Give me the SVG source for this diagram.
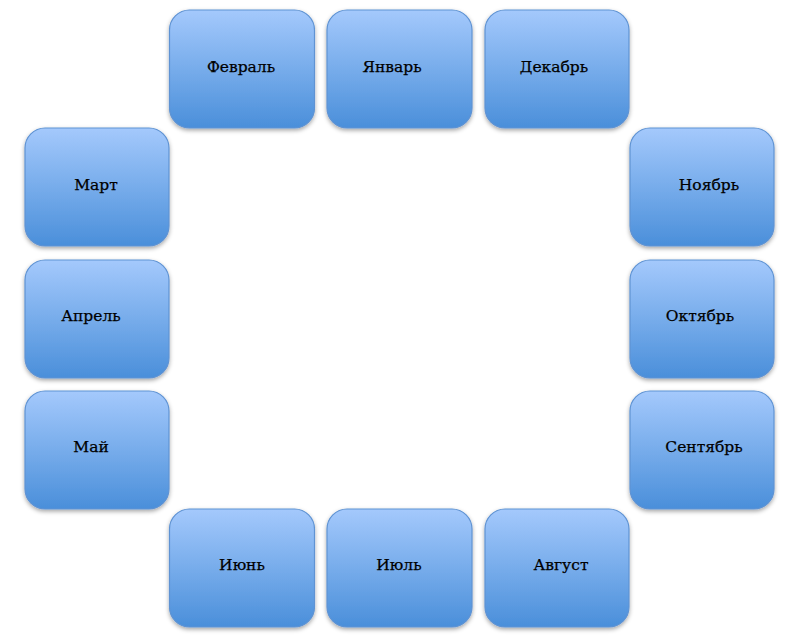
<svg xmlns="http://www.w3.org/2000/svg" width="800" height="637" viewBox="0 0 800 637">
<defs>
<linearGradient id="g" x1="0" y1="0" x2="0" y2="1">
<stop offset="0" stop-color="#a4c9fc"/>
<stop offset="1" stop-color="#4a8fda"/>
</linearGradient>
<filter id="sh" x="-10%" y="-10%" width="120%" height="125%">
<feDropShadow dx="0" dy="2" stdDeviation="2" flood-color="#000" flood-opacity="0.35"/>
</filter>
</defs>
<style>
.b{fill:url(#g);stroke:#5f93d3;stroke-width:1.2;filter:url(#sh)}
.t{font-family:"DejaVu Serif","Liberation Serif",serif;font-size:15.5px;fill:#000;stroke:#000;stroke-width:0.25;text-anchor:middle}
</style>
<rect width="800" height="637" fill="#fff"/>
<g id="connectors"/>
<g id="feb"><rect class="b" x="169.5" y="10" width="145" height="118" rx="20"/><text class="t" x="241" y="72">Февраль</text></g>
<g id="jan"><rect class="b" x="327" y="10" width="145" height="118" rx="20"/><text class="t" x="392" y="72">Январь</text></g>
<g id="dec"><rect class="b" x="485" y="10" width="144" height="118" rx="20"/><text class="t" x="554" y="72">Декабрь</text></g>
<g id="mar"><rect class="b" x="25" y="128" width="144" height="118" rx="20"/><text class="t" x="96" y="190">Март</text></g>
<g id="nov"><rect class="b" x="630" y="128" width="144" height="118" rx="20"/><text class="t" x="709" y="190">Ноябрь</text></g>
<g id="apr"><rect class="b" x="25" y="260" width="144" height="118" rx="20"/><text class="t" x="91" y="321">Апрель</text></g>
<g id="oct"><rect class="b" x="630" y="260" width="144" height="118" rx="20"/><text class="t" x="700" y="321">Октябрь</text></g>
<g id="may"><rect class="b" x="25" y="391" width="144" height="118" rx="20"/><text class="t" x="91" y="452">Май</text></g>
<g id="sep"><rect class="b" x="630" y="391" width="144" height="118" rx="20"/><text class="t" x="704" y="452">Сентябрь</text></g>
<g id="jun"><rect class="b" x="169.5" y="509" width="145" height="118" rx="20"/><text class="t" x="242" y="570">Июнь</text></g>
<g id="jul"><rect class="b" x="327" y="509" width="145" height="118" rx="20"/><text class="t" x="399" y="570">Июль</text></g>
<g id="aug"><rect class="b" x="485" y="509" width="144" height="118" rx="20"/><text class="t" x="561" y="570">Август</text></g>
</svg>
